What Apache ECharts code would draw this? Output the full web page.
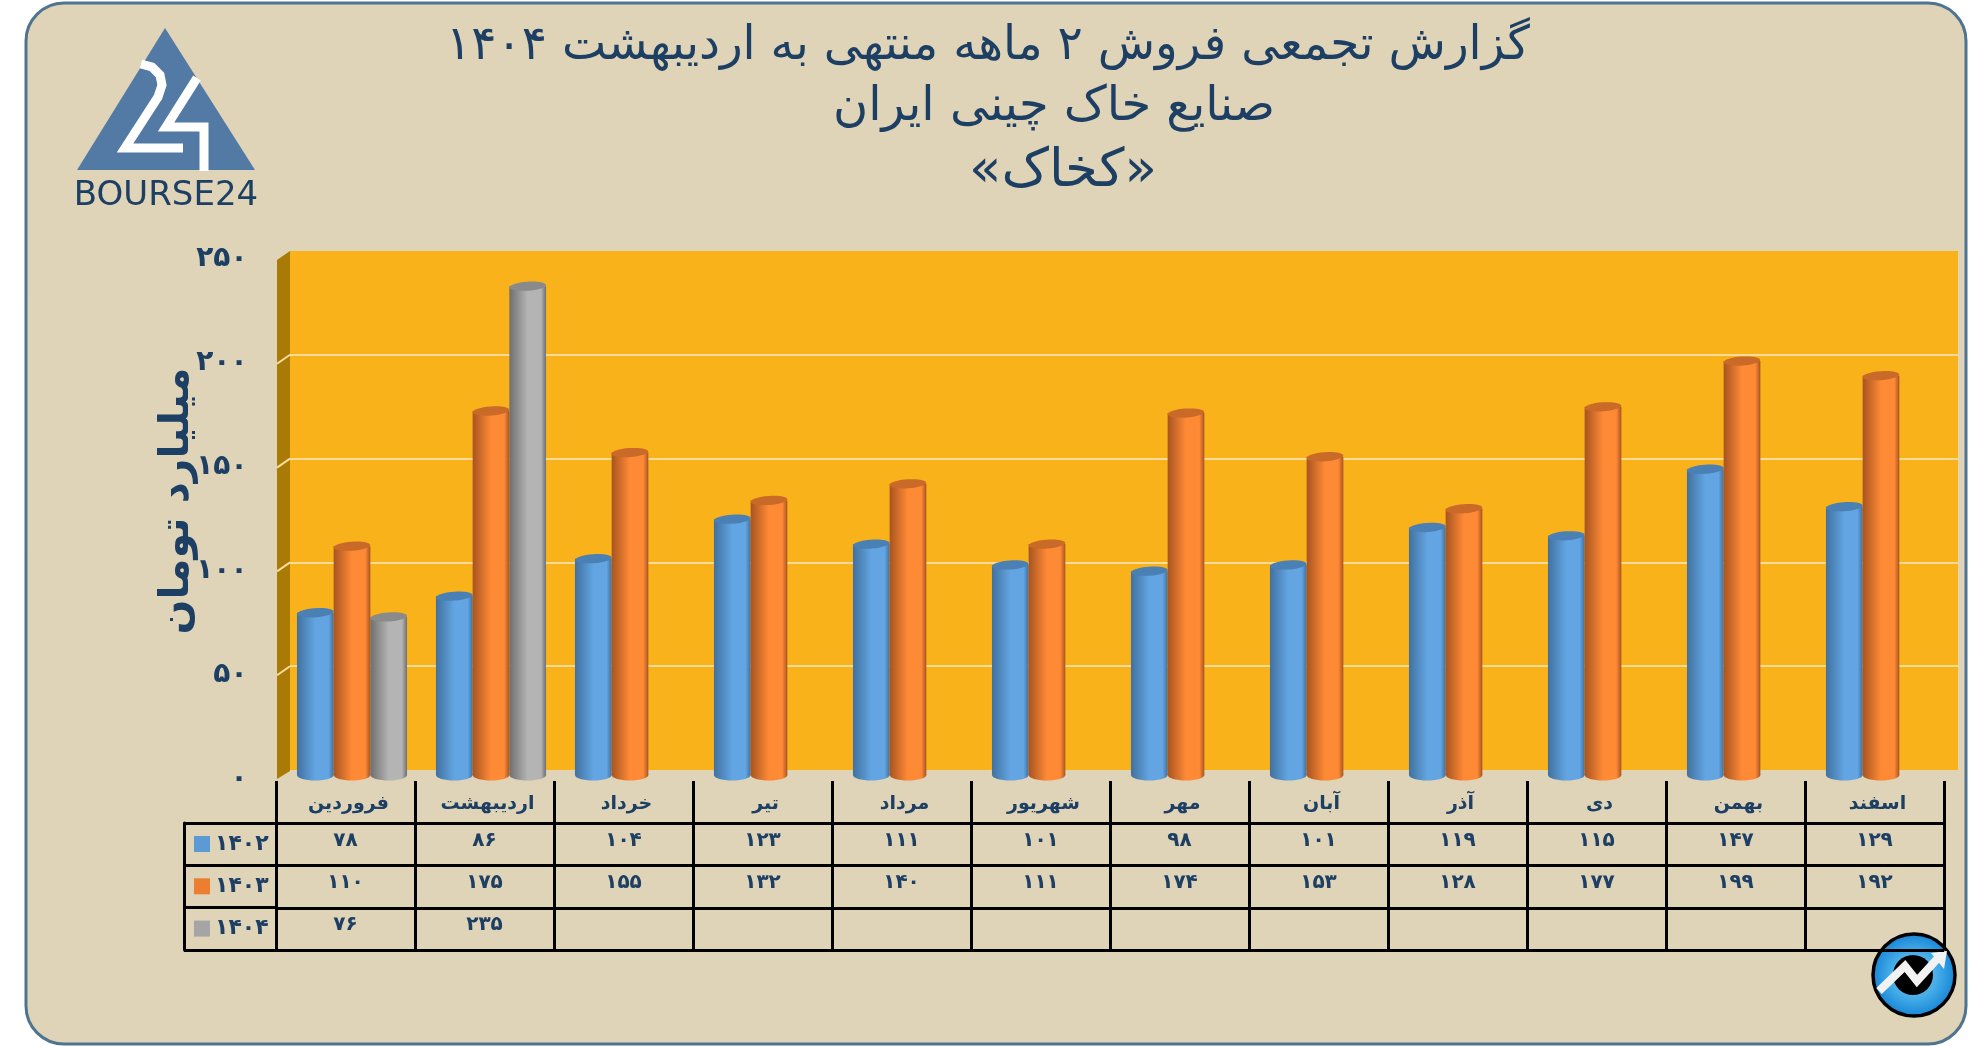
<!DOCTYPE html>
<html>
<head>
  <meta charset="utf-8">
  <title>کخاک</title>
  <script src="https://cdn.jsdelivr.net/npm/echarts@6/dist/echarts.min.js"></script>
  <style>
    html, body { margin: 0; padding: 0; background: #fff; overflow: hidden; }
    #chart { width: 1986px; height: 1047px; }
  </style>
</head>
<body>
  <div id="chart"></div>
  <script>
    // data
    var months = ['فروردین', 'اردیبهشت', 'خرداد', 'تیر', 'مرداد', 'شهریور', 'مهر', 'آبان', 'آذر', 'دی', 'بهمن', 'اسفند'];
    var years = ['1402', '1403', '1404'];
    var sales1402 = [78, 86, 104, 123, 111, 101, 98, 101, 119, 115, 147, 129];
    var sales1403 = [110, 175, 155, 132, 140, 111, 174, 153, 128, 177, 199, 192];
    var sales1404 = [76, 235];
    var yTicks = [0, 50, 100, 150, 200, 250];
    var titleLines = ['گزارش تجمعی فروش ۲ ماهه منتهی به اردیبهشت ۱۴۰۴', 'صنایع خاک چینی ایران', '«کخاک»'];
    var yName = 'میلیارد تومان';

    var FONT = '"DejaVu Sans", "Noto Sans", sans-serif';
    var INK = '#1c3f63';

    // latin digits -> persian digits
    function fa(n) {
      return String(n).replace(/[0-9]/g, function (d) { return '۰۱۲۳۴۵۶۷۸۹'[+d]; });
    }

    var chart = echarts.init(document.getElementById('chart'));
    var rows = [sales1402, sales1403, sales1404];
    // colours per series: [edge, light, top cap]
    var shades = [
      ['#41719f', '#62a5e2', '#4a80b4'],
      ['#a85420', '#ff8a36', '#c96a28'],
      ['#6f6f6f', '#b4b4b4', '#8a8a8a']
    ];
    var swatches = ['#5b9bd5', '#ed7d31', '#a5a5a5'];

    // one cylinder: base ellipse, body, tilted top cap
    function renderCylinder(params, api) {
      var slot = params.seriesIndex;
      var s = shades[slot];
      var top = api.coord([api.value(0), api.value(1)]);
      var base = api.coord([api.value(0), 0]);
      var band = api.size([1, 0])[0];
      var w = band * 0.264;
      var x = top[0] + (slot - 1) * w - w / 2;
      var grad = new echarts.graphic.LinearGradient(0, 0, 1, 0, [
        { offset: 0, color: s[0] },
        { offset: 0.5, color: s[1] },
        { offset: 0.86, color: s[1] },
        { offset: 1, color: s[0] }
      ]);
      return {
        type: 'group',
        children: [
          { type: 'ellipse', shape: { cx: x + w / 2, cy: base[1], rx: w / 2, ry: 5.5 }, style: { fill: grad } },
          { type: 'rect', shape: { x: x, y: top[1], width: w, height: base[1] - top[1] }, style: { fill: grad } },
          {
            type: 'ellipse',
            shape: { cx: x + w / 2, cy: top[1], rx: w / 2, ry: 4.5 },
            originX: x + w / 2,
            originY: top[1],
            rotation: 0.07,
            style: { fill: s[2] }
          }
        ]
      };
    }

    // left side of the box, with the grid lines carried over it
    function renderSideWall(params, api) {
      var half = api.size([1, 0])[0] / 2;
      var p = api.coord([0, api.value(0)]);
      var x = p[0] - half;
      var children = [];
      if (api.value(0) === 0) {
        var t = api.coord([0, 250]);
        children.push({
          type: 'polygon',
          shape: { points: [[x, p[1] + 1], [x - 13, p[1] + 9], [x - 13, t[1] + 9], [x, t[1]]] },
          style: { fill: '#a97a05' }
        });
      } else if (api.value(0) !== 250) {
        children.push({
          type: 'line',
          shape: { x1: x, y1: p[1], x2: x - 13, y2: p[1] + 9 },
          style: { stroke: '#fbdc98', lineWidth: 2 }
        });
      }
      return { type: 'group', children: children };
    }

    // text of one table cell, sits a bit above the middle of the row
    function renderCell(params, api) {
      var p = api.coord([api.value(0), api.value(1)]);
      var isHead = api.value(1) === 0;
      return {
        type: 'text',
        style: {
          text: tableCells[params.dataIndex][2],
          x: p[0] + (isHead ? 3 : 0),
          y: p[1] + (isHead ? 2 : -4),
          align: 'center',
          verticalAlign: 'middle',
          fill: INK,
          font: 'bold ' + (isHead ? 19 : 20) + 'px ' + FONT
        }
      };
    }

    var tableCells = [];
    months.forEach(function (m, i) {
      tableCells.push([i, 0, m]);
      rows.forEach(function (r, j) {
        if (r[i] != null) tableCells.push([i, j + 1, fa(r[i])]);
      });
    });

    var barSeries = years.map(function (y, j) {
      return {
        name: fa(y),
        type: 'custom',
        xAxisIndex: 1,
        yAxisIndex: 1,
        itemStyle: { color: swatches[j] },
        renderItem: renderCylinder,
        encode: { x: 0, y: 1 },
        data: rows[j].map(function (v, i) { return [i, v]; }),
        z: 5 + j
      };
    });

    var blackLine = { show: true, lineStyle: { color: '#000', width: 3 } };

    var option = {
      animation: false,
      textStyle: { fontFamily: FONT },
      title: titleLines.map(function (t, i) {
        return {
          text: t,
          left: [983, 1049, 1058][i],
          top: [18, 79, 141][i],
          textAlign: 'center',
          textStyle: { color: INK, fontWeight: 'normal', fontFamily: FONT, fontSize: [47, 48, 53][i] }
        };
      }),
      legend: {
        orient: 'vertical',
        left: 189,
        top: 824,
        selectedMode: false,
        icon: 'rect',
        itemWidth: 16,
        itemHeight: 16,
        itemGap: 12.3,
        data: years.map(fa),
        textStyle: { color: INK, fontWeight: 'bold', fontSize: 22, fontFamily: FONT, lineHeight: 16, padding: [0, 0, 14, 0] }
      },
      grid: [
        // back wall
        { left: 290, top: 251, width: 1668, height: 519, show: true, backgroundColor: '#fab21a', borderWidth: 0 },
        // plane the cylinders stand on
        { left: 282.5, top: 255, width: 1668, height: 520 },
        // months and values
        { left: 276, top: 781, width: 1668, height: 169 },
        // legend column
        { left: 184, top: 823, width: 92, height: 127 }
      ],
      xAxis: [
        { gridIndex: 0, type: 'category', data: months, show: false },
        { gridIndex: 1, type: 'category', data: months, show: false },
        {
          gridIndex: 2,
          type: 'category',
          data: months,
          axisLine: { show: false },
          axisTick: { show: false },
          axisLabel: { show: false },
          splitLine: { show: true, interval: 0, lineStyle: { color: '#000', width: 3 } }
        },
        { gridIndex: 3, type: 'value', show: false }
      ],
      yAxis: [
        {
          gridIndex: 0,
          type: 'value',
          min: 0,
          max: 250,
          interval: 50,
          axisLine: { show: false },
          axisTick: { show: false },
          axisLabel: { show: false },
          splitLine: { show: true, showMinLine: false, showMaxLine: false, lineStyle: { color: '#fbdc98', width: 2 } }
        },
        {
          gridIndex: 1,
          type: 'value',
          min: 0,
          max: 250,
          interval: 50,
          axisLine: { show: false },
          axisTick: { show: false },
          splitLine: { show: false },
          axisLabel: {
            margin: 35,
            color: INK,
            fontWeight: 'bold',
            fontSize: 28,
            fontFamily: FONT,
            verticalAlign: 'top',
            lineHeight: 8,
            formatter: function (v) { return fa(v); }
          },
          name: yName,
          nameLocation: 'middle',
          nameRotate: 90,
          nameGap: 85,
          nameMoveOverlap: false,
          nameTextStyle: { color: INK, fontWeight: 'bold', fontSize: 41, fontFamily: FONT, padding: [0, 0, 0, 28] }
        },
        {
          gridIndex: 2,
          type: 'category',
          inverse: true,
          data: ['', '1402', '1403', '1404'],
          axisLine: { show: false },
          axisTick: { show: false },
          axisLabel: { show: false },
          splitLine: {
            show: true,
            interval: function (index) { return index > 0; },
            lineStyle: { color: '#000', width: 3 }
          }
        },
        {
          gridIndex: 3,
          type: 'category',
          inverse: true,
          data: years,
          axisLine: blackLine,
          axisTick: { show: false },
          axisLabel: { show: false },
          splitLine: { show: true, interval: 0, lineStyle: { color: '#000', width: 3 } }
        }
      ],
      series: barSeries.concat([
        {
          type: 'custom',
          xAxisIndex: 0,
          yAxisIndex: 0,
          renderItem: renderSideWall,
          encode: { y: 0 },
          data: yTicks.map(function (v) { return [v]; }),
          z: 3
        },
        {
          type: 'custom',
          xAxisIndex: 2,
          yAxisIndex: 2,
          renderItem: renderCell,
          encode: { x: 0, y: 1 },
          data: tableCells.map(function (c) { return [c[0], c[1]]; }),
          z: 4
        }
      ]),
      graphic: [
        // page panel
        {
          type: 'rect',
          z: -10,
          silent: true,
          shape: { x: 26, y: 3, width: 1940, height: 1041, r: 38 },
          style: { fill: '#dfd3b8', stroke: '#4f7491', lineWidth: 3 }
        },
        // bourse24 logo
        {
          type: 'group',
          z: 20,
          silent: true,
          children: [
            { type: 'polygon', shape: { points: [[165, 28], [255, 170], [77, 170]] }, style: { fill: '#527aa5' } },
            {
              type: 'polyline',
              shape: { points: [[141, 64], [152, 67], [160, 75], [162, 85], [158, 97], [125, 148], [183, 148]] },
              style: { fill: 'none', stroke: '#fff', lineWidth: 9 }
            },
            {
              type: 'polyline',
              shape: { points: [[197, 78], [166, 127], [204, 127], [204, 171]] },
              style: { fill: 'none', stroke: '#fff', lineWidth: 9 }
            },
            {
              type: 'text',
              style: { text: 'BOURSE24', x: 166, y: 196, align: 'center', verticalAlign: 'middle', fill: INK, font: '34px ' + FONT }
            }
          ]
        },
        // round badge
        {
          type: 'group',
          z: 20,
          silent: true,
          children: [
            {
              type: 'circle',
              shape: { cx: 1914, cy: 975, r: 41 },
              style: {
                fill: new echarts.graphic.RadialGradient(0.5, 0.5, 0.5, [
                  { offset: 0, color: '#8fd0f2' },
                  { offset: 0.6, color: '#3fa8e6' },
                  { offset: 1, color: '#1583d6' }
                ]),
                stroke: '#000',
                lineWidth: 3.5
              }
            },
            { type: 'circle', shape: { cx: 1913, cy: 975, r: 20 }, style: { fill: '#000' } },
            {
              type: 'polyline',
              shape: { points: [[1879, 991], [1905, 966], [1917, 981], [1938, 958]] },
              style: { fill: 'none', stroke: '#f2f2f2', lineWidth: 8 }
            },
            { type: 'polygon', shape: { points: [[1947, 951], [1931, 953], [1944, 969]] }, style: { fill: '#f2f2f2' } }
          ]
        }
      ]
    };
    chart.setOption(option);
  </script>
</body>
</html>
